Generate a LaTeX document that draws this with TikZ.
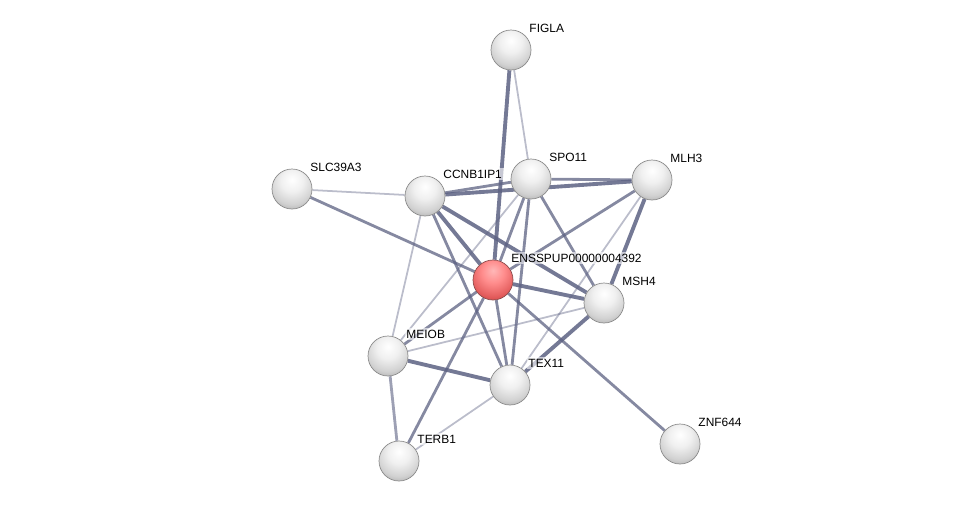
\documentclass[tikz,border=0pt]{standalone}
\usepackage{fontspec}
\setmainfont{Liberation Sans}
\usetikzlibrary{backgrounds}

\definecolor{edgeblue}{RGB}{92,97,130}
\pgfdeclareradialshading{protball}{\pgfpoint{0bp}{12bp}}{%
  color(0bp)=(white); color(14bp)=(white!94!black); color(28bp)=(white!82!black);
  color(38bp)=(white!66!black); color(46bp)=(white!50!black); color(56bp)=(white!38!black); color(100bp)=(white!38!black)}
\pgfdeclareradialshading{queryball}{\pgfpoint{0bp}{12bp}}{%
  color(0bp)=(white!72!red); color(14bp)=(white!55!red); color(28bp)=(white!42!red!90!black);
  color(38bp)=(white!30!red!80!black); color(46bp)=(white!18!red!60!black); color(56bp)=(red!45!black); color(100bp)=(red!45!black)}

\begin{document}
\begin{tikzpicture}[
    x=0.02cm, y=-0.02cm,
    prot/.style={circle, shading=protball, draw=black!45, line width=0.4pt, minimum size=0.8cm, inner sep=0pt},
    query/.style={prot, shading=queryball, draw=red!35!black!70},
    lbl/.style={font=\fontsize{6.8}{8}\selectfont, inner sep=1pt, xshift=-0.08cm, yshift=0.44cm,
        fill=white, fill opacity=.6, text opacity=1, draw=none},
    strong/.style={draw=edgeblue, line width=2.2pt, opacity=.85},
    medium/.style={draw=edgeblue, line width=1.6pt, opacity=.75},
    weak/.style={draw=edgeblue, line width=1pt, opacity=.42}
]
\useasboundingbox (0,0) rectangle (976,507);

% Proteins
\node[query, label={[lbl]right:ENSSPUP00000004392}] (ens) at (493,280) {};
\node[prot, label={[lbl]right:FIGLA}] (figla) at (511,50) {};
\node[prot, label={[lbl]right:SLC39A3}] (slc) at (292,189) {};
\node[prot, label={[lbl]right:CCNB1IP1}] (ccnb) at (425,196) {};
\node[prot, label={[lbl]right:SPO11}] (spo) at (531,179) {};
\node[prot, label={[lbl]right:MLH3}] (mlh) at (652,180) {};
\node[prot, label={[lbl]right:MSH4}] (msh) at (604,303) {};
\node[prot, label={[lbl]right:MEIOB}] (meiob) at (388,356) {};
\node[prot, label={[lbl]right:TEX11}] (tex) at (510,385) {};
\node[prot, label={[lbl]right:TERB1}] (terb) at (399,461) {};
\node[prot, label={[lbl]right:ZNF644}] (znf) at (680,444) {};

% Interactions
\begin{scope}[on background layer]
\draw[weak] (figla) -- (spo);
\draw[weak] (slc) -- (ccnb);
\draw[weak] (ccnb) -- (meiob);
\draw[weak] (spo) -- (meiob);
\draw[weak] (mlh) -- (tex);
\draw[weak] (msh) -- (meiob);
\draw[weak] (tex) -- (terb);
\draw[medium] (slc) -- (ens);
\draw[medium] (spo) -- (ens);
\draw[medium] (spo) -- (tex);
\draw[medium] (spo) -- (msh);
\draw[medium] (ccnb) -- (tex);
\draw[medium] (ccnb) -- (spo);
\draw[medium] (spo) -- (mlh);
\draw[medium] (mlh) -- (ens);
\draw[medium] (ens) -- (tex);
\draw[medium] (ens) -- (terb);
\draw[medium] (ens) -- (znf);
\draw[medium] (ens) -- (meiob);
\draw[medium, opacity=.6] (meiob) -- (terb);
\draw[strong] (figla) -- (ens);
\draw[strong] (ccnb) -- (ens);
\draw[strong] (ccnb) -- (mlh);
\draw[strong] (ccnb) -- (msh);
\draw[strong] (mlh) -- (msh);
\draw[strong] (ens) -- (msh);
\draw[strong] (meiob) -- (tex);
\draw[strong] (msh) -- (tex);
\end{scope}
\end{tikzpicture}
\end{document}
